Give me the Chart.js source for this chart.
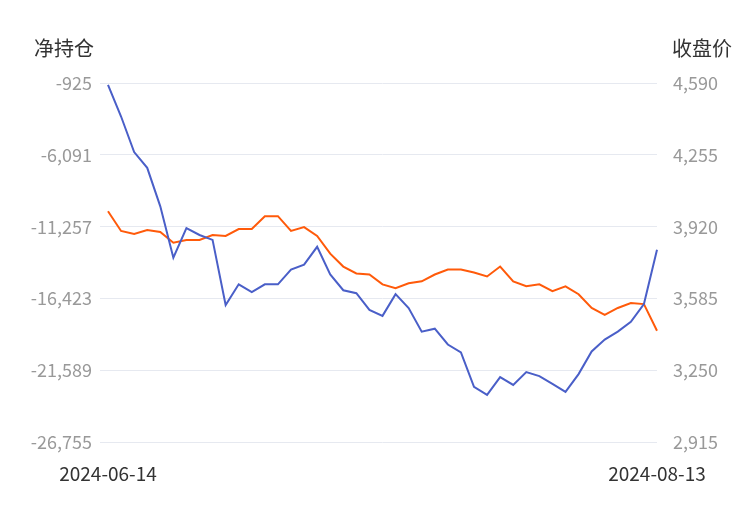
<!DOCTYPE html>
<html><head><meta charset="utf-8">
<script src="https://cdn.jsdelivr.net/npm/chart.js@4"></script>
<style>html,body{margin:0;padding:0;background:#fff}#w{width:750px;height:510px}</style>
</head><body><div id="w"><canvas id="c"></canvas></div>
<script>
const dates=["2024-06-14","2024-06-17","2024-06-18","2024-06-19","2024-06-20","2024-06-21","2024-06-24","2024-06-25","2024-06-26","2024-06-27","2024-06-28",
"2024-07-01","2024-07-02","2024-07-03","2024-07-04","2024-07-05","2024-07-08","2024-07-09","2024-07-10","2024-07-11","2024-07-12",
"2024-07-15","2024-07-16","2024-07-17","2024-07-18","2024-07-19","2024-07-22","2024-07-23","2024-07-24","2024-07-25","2024-07-26",
"2024-07-29","2024-07-30","2024-07-31","2024-08-01","2024-08-02","2024-08-05","2024-08-06","2024-08-07","2024-08-08","2024-08-09","2024-08-12","2024-08-13"];
const netPosition=[-1067,-3336,-5892,-7027,-9795,-13485,-11356,-11853,-12208,-16891,-15401,-15969,-15401,-15401,-14336,-13982,-12705,-14691,-15827,-16040,-17246,-17672,-16110,-17104,-18807,-18594,-19729,-20297,-22780,-23348,-22071,-22638,-21716,-22000,-22567,-23135,-21858,-20226,-19374,-18807,-18097,-16820,-12917];
const closePrice=[3992,3900,3886,3904,3895,3845,3858,3858,3881,3877,3909,3909,3969,3969,3900,3918,3877,3794,3734,3702,3697,3651,3633,3656,3665,3697,3720,3720,3706,3688,3734,3665,3642,3651,3619,3642,3605,3541,3509,3541,3564,3559,3435];
const leftTicks=[-925,-6091,-11257,-16423,-21589,-26755];
const rightTicks=[4590,4255,3920,3585,3250,2915];
const fmt=v=>v.toLocaleString('en-US');
const FONT='"Noto Sans CJK SC"';
const titles={id:'t',afterDraw(ch){const c=ch.ctx;c.save();c.font='20px '+FONT;c.fillStyle='#333';c.textBaseline='middle';c.textAlign='left';c.fillText('净持仓',34,48);c.textAlign='right';c.fillText('收盘价',732,48);c.restore();}};
new Chart(document.getElementById('c'),{type:'line',
data:{labels:dates,datasets:[
{data:netPosition,borderColor:'#4a5fc8',borderWidth:2,pointRadius:0,tension:0,yAxisID:'y'},
{data:closePrice,borderColor:'#ff5a0a',borderWidth:2,pointRadius:0,tension:0,yAxisID:'y1'}]},
plugins:[titles],
options:{animation:false,responsive:true,maintainAspectRatio:false,
layout:{padding:{top:83,left:0,right:0,bottom:13}},
plugins:{legend:{display:false},tooltip:{enabled:false}},
scales:{
x:{grid:{display:false},border:{display:false},ticks:{autoSkip:false,maxRotation:0,padding:12,color:'#333',font:{size:19,family:FONT},callback:(v,i)=>(i===0||i===dates.length-1)?dates[i]:''}},
y:{position:'left',min:-26755,max:-925,afterBuildTicks:s=>{s.ticks=leftTicks.map(v=>({value:v}))},afterFit:s=>{s.width=108},grid:{color:'#e6e9f0'},border:{display:false},ticks:{color:'#999',padding:8,font:{size:18,family:FONT},callback:v=>fmt(v)}},
y1:{position:'right',min:2915,max:4590,afterBuildTicks:s=>{s.ticks=rightTicks.map(v=>({value:v}))},afterFit:s=>{s.width=93},grid:{display:false},border:{display:false},ticks:{color:'#999',padding:8,font:{size:18,family:FONT},callback:v=>fmt(v)}}
}}});
</script></body></html>
